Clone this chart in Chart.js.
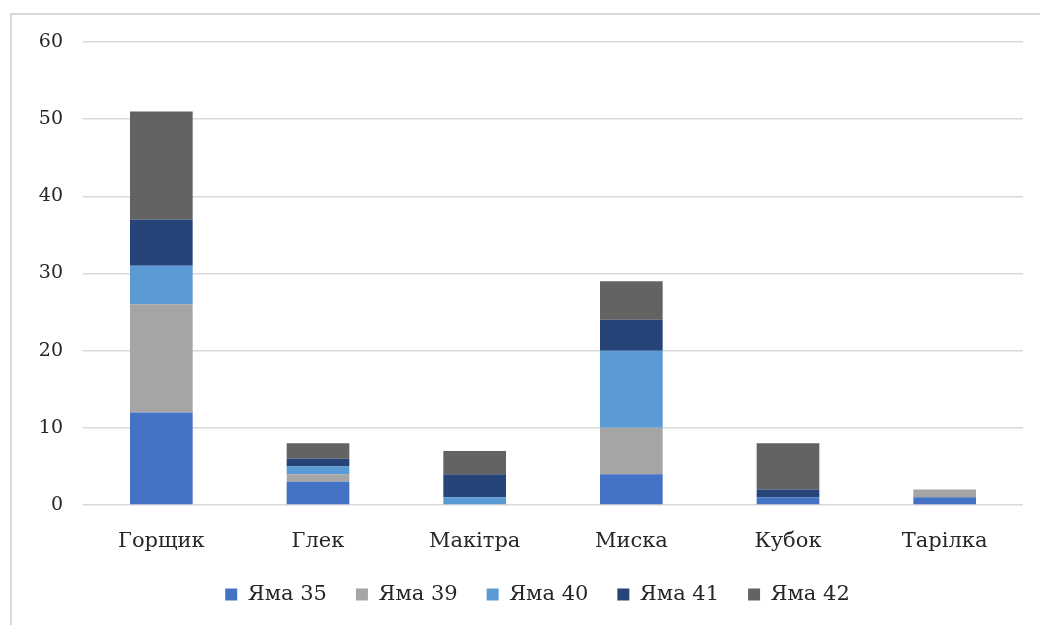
<!DOCTYPE html>
<html>
<head>
<meta charset="utf-8">
<script src="https://cdn.jsdelivr.net/npm/chart.js@4"></script>
<style>
  html, body { margin: 0; padding: 0; background: #fff; }
  #wrap { position: relative; width: 1040px; height: 625px; overflow: hidden; }
  #frame { position: absolute; left: 10px; top: 13px; width: 1100px; height: 700px;
           border-left: 2px solid #d9d9d9; border-top: 2px solid #d9d9d9; box-sizing: border-box; }
  canvas { position: absolute; left: 0; top: 0; }
</style>
</head>
<body>
<div id="wrap">
  <div id="frame"></div>
  <canvas id="chart" width="1040" height="625"></canvas>
</div>
<script>
// Categories and series (counts per pit)
const categories = ['Горщик', 'Глек', 'Макітра', 'Миска', 'Кубок', 'Тарілка'];
const yama35 = [12, 3, 0, 4, 1, 1];
const yama39 = [14, 1, 0, 6, 0, 1];
const yama40 = [5, 1, 1, 10, 0, 0];
const yama41 = [6, 1, 3, 4, 1, 0];
const yama42 = [14, 2, 3, 5, 6, 0];
const seriesNames = ['Яма 35', 'Яма 39', 'Яма 40', 'Яма 41', 'Яма 42'];
const yTicks = [0, 10, 20, 30, 40, 50, 60];

const colors = ['#4472C4', '#A5A5A5', '#5B9BD5', '#264478', '#636363'];
const allSeries = [yama35, yama39, yama40, yama41, yama42];

const textColor = '#262626';
const fontFamily = '"DejaVu Serif", "Liberation Serif", serif';

// legend sits a bit right of centre in the original
const legendShift = {
  id: 'legendShift',
  afterLayout(chart) {
    const lg = chart.legend;
    if (!lg) return;
    lg.left += 26;
    lg.right += 26;
    if (lg.adjustHitBoxes) lg.adjustHitBoxes();
  }
};

new Chart(document.getElementById('chart'), {
  type: 'bar',
  data: {
    labels: categories,
    datasets: allSeries.map((vals, i) => ({
      label: seriesNames[i],
      data: vals,
      backgroundColor: colors[i],
      borderWidth: 0,
      barPercentage: 0.4,
      categoryPercentage: 1
    }))
  },
  options: {
    responsive: false,
    animation: false,
    layout: { padding: { left: 0, right: 17, top: 42, bottom: 10 } },
    plugins: {
      tooltip: { enabled: false },
      legend: {
        position: 'bottom',
        labels: {
          boxWidth: 12,
          boxHeight: 12,
          padding: 29,
          color: textColor,
          font: { family: fontFamily, size: 21 }
        }
      }
    },
    scales: {
      x: {
        stacked: true,
        grid: { display: false, drawTicks: false },
        border: { display: false },
        ticks: {
          color: textColor,
          padding: 24,
          font: { family: fontFamily, size: 21 }
        },
        afterFit: s => { s.height = 50; }
      },
      y: {
        stacked: true,
        min: 0,
        max: 60,
        afterBuildTicks: s => { s.ticks = yTicks.map(v => ({ value: v })); },
        grid: { color: '#d9d9d9', lineWidth: 1.5, drawTicks: false },
        border: { display: false },
        ticks: {
          color: textColor,
          padding: 20,
          font: { family: fontFamily, size: 19 }
        },
        afterFit: s => { s.width = 83; }
      }
    }
  },
  plugins: [legendShift]
});
</script>
</body>
</html>
